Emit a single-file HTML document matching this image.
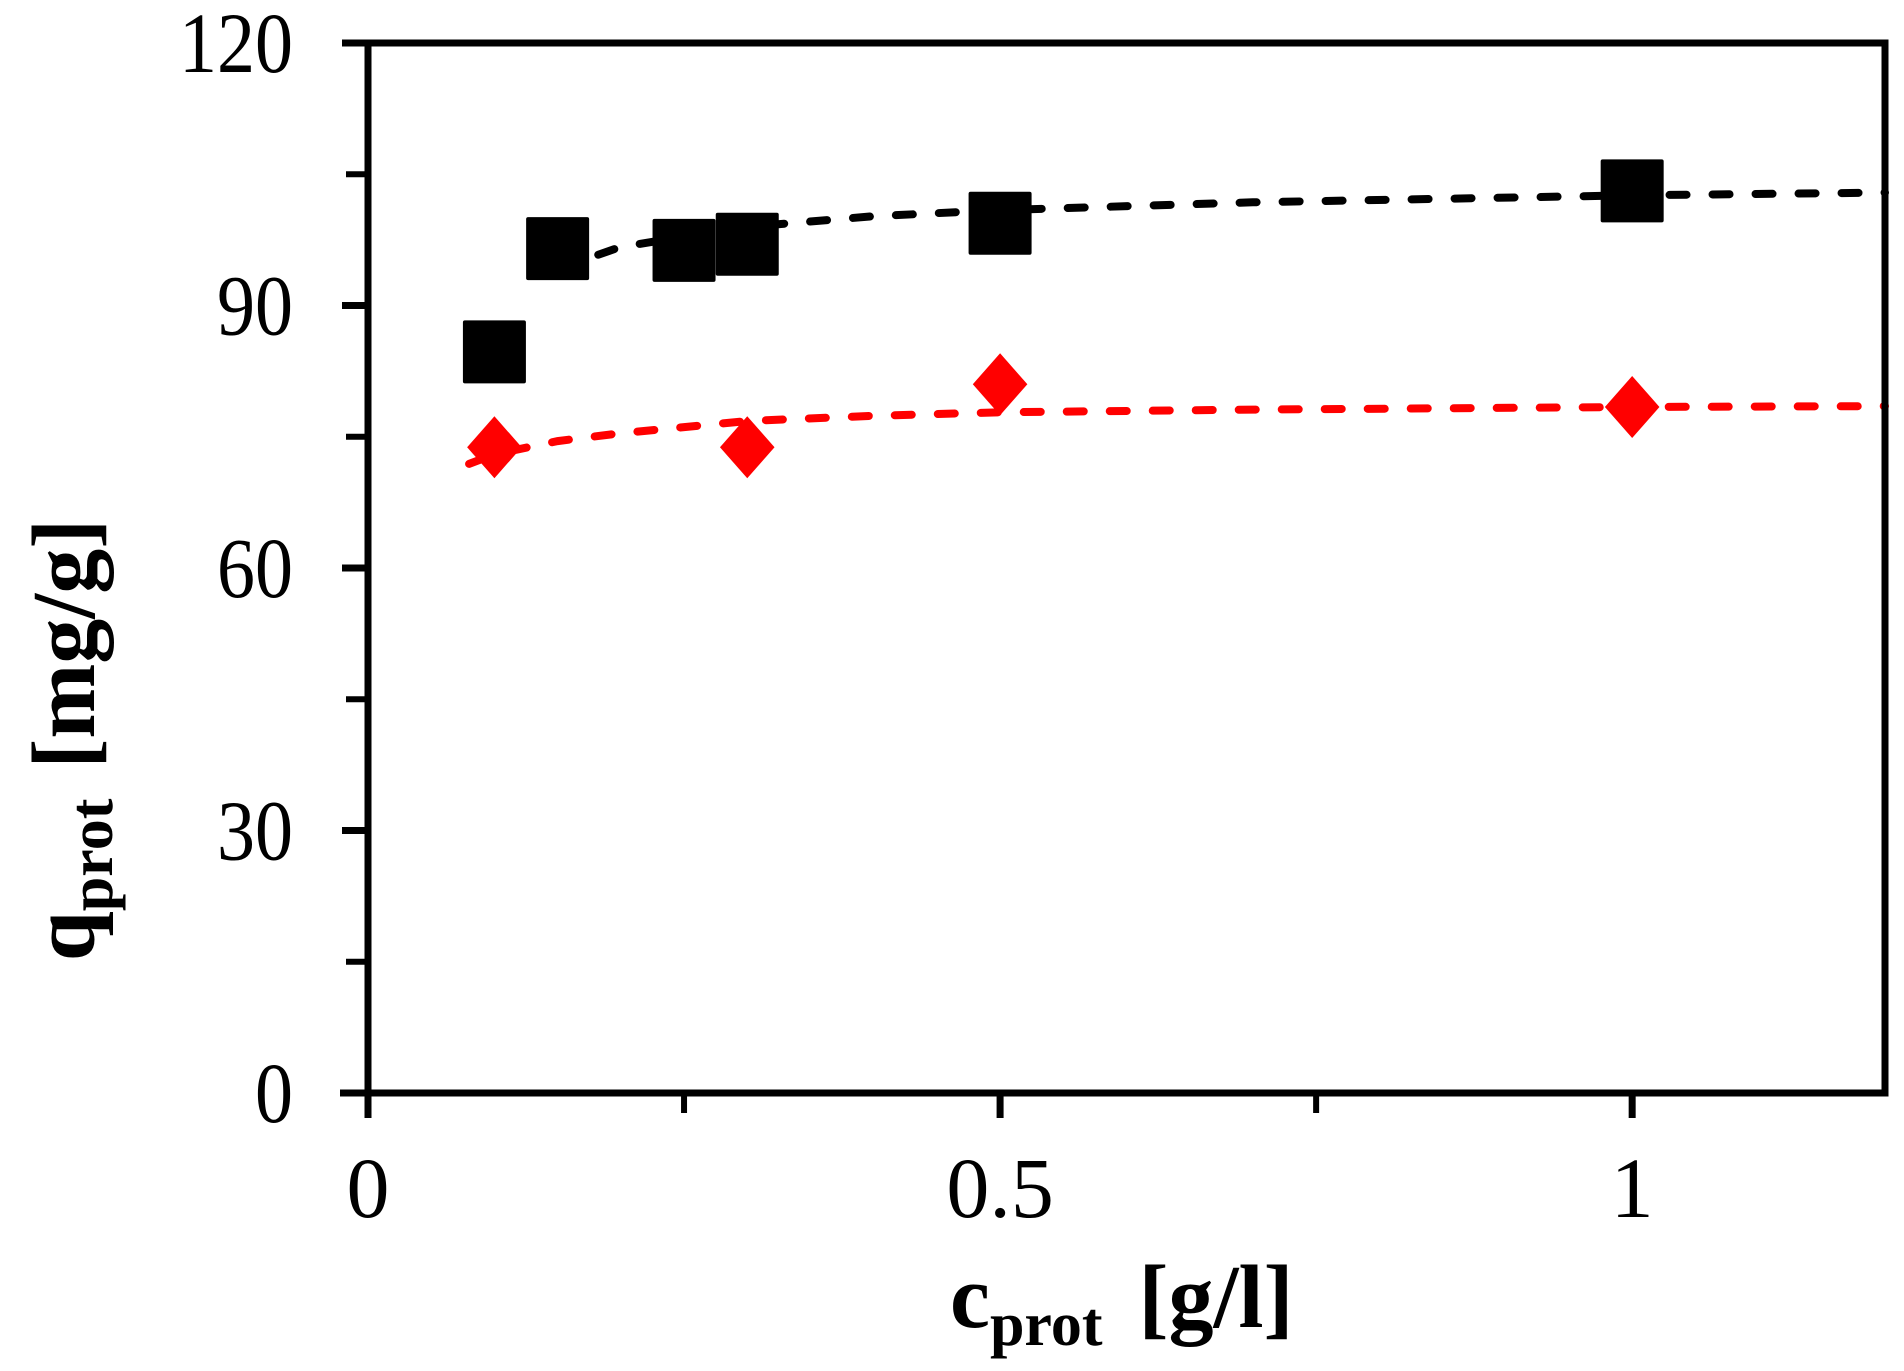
<!DOCTYPE html>
<html><head><meta charset="utf-8"><style>
html,body{margin:0;padding:0;background:#fff;}
svg{display:block;font-family:"Liberation Serif",serif;}
</style></head><body>
<svg id="chart" width="1904" height="1371" viewBox="0 0 1904 1371" xmlns="http://www.w3.org/2000/svg">
<g id="fits"></g>
<g id="marks"></g>
<g id="axes"></g>
<text x="950" y="1327" font-size="90" font-weight="bold">c<tspan font-size="62" dy="18">prot</tspan><tspan dy="-18" dx="36">[g/l]</tspan></text>
<text transform="translate(94,740) rotate(-90)" text-anchor="middle" font-size="90" font-weight="bold">q<tspan font-size="62" dy="18">prot</tspan><tspan dy="-18" dx="30">[mg/g]</tspan></text>
</svg>
<script>
const blackX = [0.1, 0.15, 0.25, 0.30, 0.5, 1.0];
const blackY = [84.7, 96.5, 96.3, 97.0, 99.4, 103.1];
const redX = [0.1, 0.30, 0.5, 1.0];
const redY = [73.8, 73.8, 81.0, 78.4];
const blackFitX = [0.15, 0.2, 0.3, 0.4, 0.5, 0.7, 1.0, 1.2];
const blackFitY = [94.2, 96.7, 99.0, 100.2, 100.9, 101.8, 102.6, 102.9];
const redFitX = [0.08, 0.1, 0.15, 0.2, 0.3, 0.4, 0.5, 0.7, 1.0, 1.2];
const redFitY = [71.9, 73.0, 74.5, 75.4, 76.8, 77.4, 77.8, 78.1, 78.4, 78.5];
const yTicks = [0, 30, 60, 90, 120];
const yMinor = [15, 45, 75, 105];
const xTicks = [0, 0.5, 1];
const xTickLabels = ["0", "0.5", "1"];
const xMinor = [0.25, 0.75];

const X0 = 368, X1 = 1885, Y0 = 1093, Y1 = 43;
const XMAX = 1.2, YMAX = 120;
function sx(v){ return X0 + v / XMAX * (X1 - X0); }
function sy(v){ return Y0 - v / YMAX * (Y0 - Y1); }
const NS = "http://www.w3.org/2000/svg";
function mk(tag, attrs, parent){
  const e = document.createElementNS(NS, tag);
  for (const k in attrs) e.setAttribute(k, attrs[k]);
  parent.appendChild(e);
  return e;
}
const fits = document.getElementById('fits');
const marks = document.getElementById('marks');
const axes = document.getElementById('axes');

function fitLine(xs, ys, color, name){
  const d = xs.map((x,i)=>(i?'L':'M')+sx(x).toFixed(1)+' '+sy(ys[i]).toFixed(1)).join(' ');
  const p = mk('path', {d:d, fill:'none', stroke:color, 'stroke-width':8, 'stroke-linecap':'round', 'stroke-dasharray':'17 26'}, fits);
  
  
}
fitLine(blackFitX, blackFitY, '#000', 'black-fit-line');
fitLine(redFitX, redFitY, '#ff0000', 'red-fit-line');

blackX.forEach((x,i)=>{
  const s = 63;
  const r = mk('rect', {x:sx(x)-s/2, y:sy(blackY[i])-s/2, width:s, height:s, rx:2, fill:'#000'}, marks);
  
  
});
redX.forEach((x,i)=>{
  const cx = sx(x), cy = sy(redY[i]), h = 31;
  const p = mk('polygon', {points:`${cx},${cy-h} ${cx+h*0.88},${cy} ${cx},${cy+h} ${cx-h*0.88},${cy}`, fill:'#ff0000'}, marks);
  
  
});

const fr = mk('rect', {x:X0, y:Y1, width:X1-X0, height:Y0-Y1, fill:'none', stroke:'#000', 'stroke-width':7}, axes);



yTicks.forEach(v=>{
  const t = mk('line', {x1:X0-26, x2:X0, y1:sy(v), y2:sy(v), stroke:'#000', 'stroke-width':7}, axes);
  
  
  const l = mk('text', {x:293, y:sy(v)+29, 'text-anchor':'end', 'font-size':86, 'textLength':(String(v).length*38), 'lengthAdjust':'spacingAndGlyphs'}, axes);
  l.textContent = String(v);
  
  
});
yMinor.forEach(v=>{
  const t = mk('line', {x1:X0-22, x2:X0, y1:sy(v), y2:sy(v), stroke:'#000', 'stroke-width':6}, axes);
  
  
});
xTicks.forEach((v,i)=>{
  const t = mk('line', {x1:sx(v), x2:sx(v), y1:Y0, y2:Y0+25, stroke:'#000', 'stroke-width':7}, axes);
  
  
  const l = mk('text', {x:sx(v), y:1217, 'text-anchor':'middle', 'font-size':86}, axes);
  l.textContent = xTickLabels[i];
  
  
});
xMinor.forEach(v=>{
  const t = mk('line', {x1:sx(v), x2:sx(v), y1:Y0, y2:Y0+20, stroke:'#000', 'stroke-width':6}, axes);
  
  
});
const yl = mk('line', {x1:X0-28, x2:X0, y1:Y0, y2:Y0, stroke:'#000', 'stroke-width':7}, axes);


</script>
</body></html>
